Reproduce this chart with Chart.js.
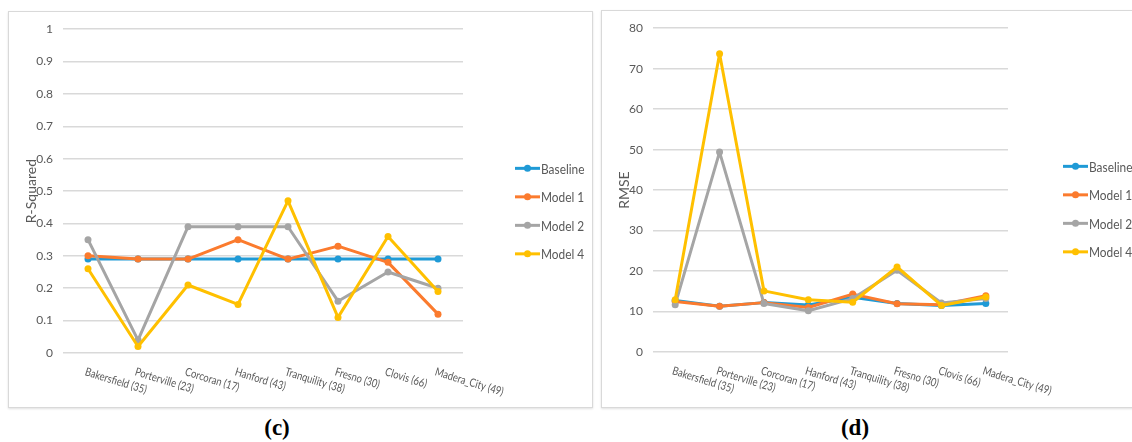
<!DOCTYPE html>
<html>
<head>
<meta charset="utf-8">
<script src="https://cdn.jsdelivr.net/npm/chart.js@4/dist/chart.umd.min.js"></script>
<style>
  html, body { margin: 0; padding: 0; background: #ffffff; }
  body { width: 1132px; height: 442px; position: relative; overflow: hidden; }
  .panel { position: absolute; box-sizing: border-box; border: 1px solid #d9d9d9; background: #fff;
           box-shadow: 0 1px 2px rgba(0,0,0,0.12); }
  .panel canvas { display: block; }
  .cap { position: absolute; font-family: "Liberation Serif", "DejaVu Serif", serif; font-weight: bold;
         font-size: 23px; color: #000; transform: translate(-50%, -50%); white-space: nowrap; }
</style>
</head>
<body>
<div class="panel" style="left:8px; top:11px; width:585px; height:397px;"><canvas id="r2" width="583" height="395"></canvas></div>
<div class="panel" style="left:601px; top:10px; width:536px; height:398px;"><canvas id="rmse" width="534" height="396"></canvas></div>
<div class="cap" style="left:277px; top:428px;">(c)</div>
<div class="cap" style="left:855px; top:428px;">(d)</div>
<script>
// Stations (sample size in brackets)
const stations = ["Bakersfield (35)", "Porterville (23)", "Corcoran (17)", "Hanford (43)",
                  "Tranquility (38)", "Fresno (30)", "Clovis (66)", "Madera_City (49)"];
const seriesNames = ["Baseline", "Model 1", "Model 2", "Model 4"];
const seriesColors = ["#1f9ad6", "#fb7b2e", "#a5a5a5", "#ffc000"];

// R-Squared per station
const r2Baseline = [0.29, 0.29, 0.29, 0.29, 0.29, 0.29, 0.29, 0.29];
const r2Model1   = [0.30, 0.29, 0.29, 0.35, 0.29, 0.33, 0.28, 0.12];
const r2Model2   = [0.35, 0.04, 0.39, 0.39, 0.39, 0.16, 0.25, 0.20];
const r2Model4   = [0.26, 0.02, 0.21, 0.15, 0.47, 0.11, 0.36, 0.19];

// RMSE per station
const rmseBaseline = [12.7, 11.3, 12.2, 11.6, 13.5, 12.0, 11.5, 12.0];
const rmseModel1   = [12.5, 11.3, 12.2, 11.0, 14.3, 11.9, 11.7, 13.9];
const rmseModel2   = [11.7, 49.4, 12.0, 10.2, 13.2, 20.2, 12.1, 13.2];
const rmseModel4   = [12.9, 73.7, 15.1, 12.9, 12.3, 21.0, 11.5, 13.6];

const textColor = "#595959";
const gridColor = "#d9d9d9";
const uiFont = 'Lato, "Liberation Sans", Arial, sans-serif';

// Slanted category labels, running down to the right from each tick
const slantLabels = {
  id: "slantLabels",
  afterDraw(chart) {
    const x = chart.scales.x, ctx = chart.ctx;
    ctx.save();
    ctx.font = "11.5px " + uiFont;
    ctx.fillStyle = textColor;
    ctx.textBaseline = "top";
    ctx.textAlign = "left";
    chart.data.labels.forEach((lab, i) => {
      const px = x.getPixelForTick(i);
      ctx.save();
      ctx.translate(px - 1, chart.chartArea.bottom + 13);
      ctx.rotate(17 * Math.PI / 180);
      ctx.scale(0.82, 1);   // condensed lettering
      ctx.fillText(lab, 0, 0);
      ctx.restore();
    });
    ctx.restore();
  }
};

// Legend to the right of the plot: short line with a marker, then the name
const sideLegend = {
  id: "sideLegend",
  afterDraw(chart, args, opts) {
    const ctx = chart.ctx;
    const x0 = chart.chartArea.right + opts.dx;
    const y0 = (chart.chartArea.top + chart.chartArea.bottom) / 2 + opts.dy;
    const n = chart.data.datasets.length;
    ctx.save();
    ctx.font = "13.5px " + uiFont;
    ctx.textBaseline = "middle";
    chart.data.datasets.forEach((ds, i) => {
      const y = y0 + (i - (n - 1) / 2) * opts.gap;
      ctx.strokeStyle = ds.borderColor;
      ctx.lineWidth = 3;
      ctx.beginPath(); ctx.moveTo(x0, y); ctx.lineTo(x0 + 25, y); ctx.stroke();
      ctx.fillStyle = ds.borderColor;
      ctx.beginPath(); ctx.arc(x0 + 12.5, y, 3.5, 0, Math.PI * 2); ctx.fill();
      ctx.fillStyle = textColor;
      ctx.save();
      ctx.translate(x0 + 26, y + 1);
      ctx.scale(0.88, 1);   // condensed lettering
      ctx.fillText(ds.label, 0, 0);
      ctx.restore();
    });
    ctx.restore();
  }
};

function makeDatasets(values) {
  return values.map((v, i) => ({
    label: seriesNames[i],
    data: v,
    borderColor: seriesColors[i],
    backgroundColor: seriesColors[i],
    borderWidth: 3,
    borderJoinStyle: "round",
    borderCapStyle: "round",
    pointRadius: 3.5,
    pointBorderWidth: 0,
    pointHoverRadius: 3.5,
    tension: 0,
    order: values.length - i
  }));
}

function makeChart(id, values, cfg) {
  return new Chart(document.getElementById(id), {
    type: "line",
    data: { labels: stations, datasets: makeDatasets(values) },
    plugins: [slantLabels, sideLegend],
    options: {
      responsive: false,
      animation: false,
      events: [],
      layout: { autoPadding: false, padding: { top: cfg.padTop, right: cfg.padRight, bottom: 0, left: 0 } },
      plugins: {
        legend: { display: false },
        tooltip: { enabled: false },
        sideLegend: { dx: cfg.legDx, dy: cfg.legDy, gap: 28.5 }
      },
      scales: {
        x: {
          offset: true,
          grid: { display: false },
          border: { display: false },
          ticks: { display: false },
          afterFit: s => { s.height = cfg.xHeight; }
        },
        y: {
          min: cfg.min, max: cfg.max,
          ticks: { stepSize: cfg.step, padding: 10, color: textColor, font: { family: uiFont, size: 12 },
                   callback: v => String(Math.round(v * 10) / 10) },
          grid: { color: gridColor, lineWidth: 1.5, drawTicks: false },
          border: { display: false },
          title: { display: true, text: cfg.title, color: textColor,
                   font: { family: uiFont, size: 14 },
                   padding: { top: 14, bottom: 0 } },
          afterFit: s => { s.width = cfg.yWidth; }
        }
      }
    }
  });
}

makeChart("r2", [r2Baseline, r2Model1, r2Model2, r2Model4], {
  title: "R-Squared", min: 0, max: 1, step: 0.1,
  padTop: 15, padRight: 129, yWidth: 54, xHeight: 54, legDx: 52, legDy: 20
});
makeChart("rmse", [rmseBaseline, rmseModel1, rmseModel2, rmseModel4], {
  title: "RMSE", min: 0, max: 80, step: 10,
  padTop: 14, padRight: 128, yWidth: 51, xHeight: 55, legDx: 55, legDy: 19
});
</script>
</body>
</html>
